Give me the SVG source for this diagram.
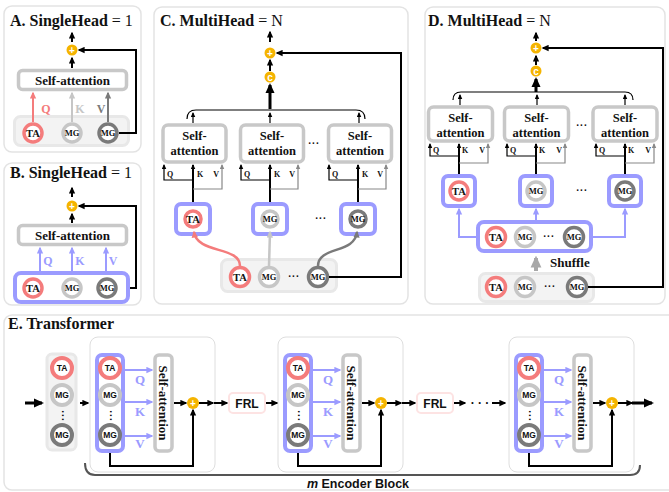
<svg xmlns="http://www.w3.org/2000/svg" width="669" height="492" viewBox="0 0 669 492">
<defs>
<style>
.panel{fill:#fff;stroke:#e3e3e3;stroke-width:1.5}
.title{font-family:"Liberation Serif",serif;font-weight:bold;font-size:16px;fill:#111}
.sa{fill:#fff;stroke:#c8c8c8;stroke-width:3.5}
.sat{font-family:"Liberation Serif",serif;font-weight:bold;font-size:13px;text-anchor:middle;fill:#111}
.sat2{font-family:"Liberation Serif",serif;font-weight:bold;font-size:12.5px;text-anchor:middle;fill:#111}
.bb{fill:#fff;stroke:#9b9bff;stroke-width:4}
.ib{fill:#f3f3f3;stroke:#e8e8e8;stroke-width:3}
.ta{fill:#fff;stroke:#f47c7c;stroke-width:3.5}
.mg1{fill:#fff;stroke:#c6c6c6;stroke-width:3.5}
.mg2{fill:#fff;stroke:#7a7a7a;stroke-width:3.5}
.e .ta,.e .mg1,.e .mg2{stroke-width:4}
.ct{font-family:"Liberation Serif",serif;font-weight:bold;font-size:10.5px;text-anchor:middle;fill:#111}
.cm{font-family:"Liberation Serif",serif;font-weight:bold;font-size:8.5px;text-anchor:middle;fill:#111}
.et{font-family:"Liberation Sans",sans-serif;font-weight:bold;font-size:8.5px;text-anchor:middle;fill:#111}
.op{fill:#f5b400}
.opt{font-family:"Liberation Sans",sans-serif;font-weight:bold;font-size:10px;fill:#fff;text-anchor:middle}
.k{fill:none;stroke:#000;stroke-width:2}
.k1{fill:none;stroke:#000;stroke-width:1.2}
.g1{fill:none;stroke:#888;stroke-width:1.2}
.k3{fill:none;stroke:#000;stroke-width:3}
.bl{fill:none;stroke:#9b9bff;stroke-width:2}
.lbl{font-family:"Liberation Serif",serif;font-weight:bold;font-size:12px;text-anchor:middle}
.elbl{font-family:"Liberation Serif",serif;font-weight:bold;font-size:13px;text-anchor:middle;fill:#9b9bff}
.qkv{font-family:"Liberation Serif",serif;font-weight:bold;font-size:8px;fill:#111}
.dots{font-family:"Liberation Sans",sans-serif;font-weight:bold;font-size:10px;letter-spacing:0.5px;text-anchor:middle;fill:#111}
.frl{fill:#fff;stroke:#fde3e3;stroke-width:2}
.frlt{font-family:"Liberation Sans",sans-serif;font-weight:bold;font-size:12px;text-anchor:middle;fill:#111}
.blk{fill:#fff;stroke:#dedede;stroke-width:1}
.enc{font-family:"Liberation Sans",sans-serif;font-weight:bold;font-size:12.5px;text-anchor:middle;fill:#111}
</style>
<marker id="ak" viewBox="0 0 10 10" refX="8" refY="5" markerWidth="7" markerHeight="7" markerUnits="userSpaceOnUse" orient="auto"><path d="M0,0.5 L10,5 L0,9.5 z" fill="#000"/></marker>
<marker id="aks" viewBox="0 0 10 10" refX="8" refY="5" markerWidth="5" markerHeight="5" markerUnits="userSpaceOnUse" orient="auto"><path d="M0,0.5 L10,5 L0,9.5 z" fill="#000"/></marker>
<marker id="ads" viewBox="0 0 10 10" refX="8" refY="5" markerWidth="5" markerHeight="5" markerUnits="userSpaceOnUse" orient="auto"><path d="M0,0.5 L10,5 L0,9.5 z" fill="#888"/></marker>
<marker id="akL" viewBox="0 0 10 10" refX="8" refY="5" markerWidth="10" markerHeight="10" markerUnits="userSpaceOnUse" orient="auto"><path d="M0,0.5 L10,5 L0,9.5 z" fill="#000"/></marker>
<marker id="ab" viewBox="0 0 10 10" refX="8" refY="5" markerWidth="7" markerHeight="7" markerUnits="userSpaceOnUse" orient="auto"><path d="M0,0.5 L10,5 L0,9.5 z" fill="#9b9bff"/></marker>
<marker id="ap" viewBox="0 0 10 10" refX="8" refY="5" markerWidth="7" markerHeight="7" markerUnits="userSpaceOnUse" orient="auto"><path d="M0,0.5 L10,5 L0,9.5 z" fill="#f47c7c"/></marker>
<marker id="ag" viewBox="0 0 10 10" refX="8" refY="5" markerWidth="7" markerHeight="7" markerUnits="userSpaceOnUse" orient="auto"><path d="M0,0.5 L10,5 L0,9.5 z" fill="#c6c6c6"/></marker>
<marker id="ad" viewBox="0 0 10 10" refX="8" refY="5" markerWidth="7" markerHeight="7" markerUnits="userSpaceOnUse" orient="auto"><path d="M0,0.5 L10,5 L0,9.5 z" fill="#7a7a7a"/></marker>
<marker id="ash" viewBox="0 0 10 10" refX="8" refY="5" markerWidth="12" markerHeight="12" markerUnits="userSpaceOnUse" orient="auto"><path d="M0,0.5 L10,5 L0,9.5 z" fill="#a8a8a8"/></marker>
</defs>

<!-- panel frames and titles -->
<g id="panel-a"><rect class="panel" x="4" y="6" width="137" height="146" rx="8"/><text class="title" x="10" y="26">A. SingleHead <tspan font-weight="normal">= 1</tspan></text></g>
<g id="panel-b"><rect class="panel" x="4" y="163" width="137" height="142" rx="8"/><text class="title" x="10" y="178">B. SingleHead <tspan font-weight="normal">= 1</tspan></text></g>
<g id="panel-c"><rect class="panel" x="154" y="7" width="254" height="297" rx="8"/><text class="title" x="160" y="26">C. MultiHead <tspan font-weight="normal">= N</tspan></text></g>
<g id="panel-d"><rect class="panel" x="425" y="7" width="240" height="297" rx="8"/><text class="title" x="428" y="26">D. MultiHead <tspan font-weight="normal">= N</tspan></text></g>
<g id="panel-e"><rect class="panel" x="4" y="315" width="680" height="175" rx="8"/><text class="title" x="8" y="329">E. Transformer</text></g>

<!-- A: single head, raw tokens -->
<g id="a-sa"><rect class="sa" x="18.5" y="70.5" width="108" height="19" rx="4"/><text class="sat" x="72.5" y="84.5">Self-attention</text></g>
<g id="a-in"><rect class="ib" x="14.5" y="116.5" width="114" height="29" rx="6"/></g>
<g id="a-ta"><circle class="ta" cx="33" cy="133" r="9"/><text class="ct" x="33" y="136.7">TA</text></g>
<g id="a-mg1"><circle class="mg1" cx="72" cy="133" r="9"/><text class="cm" x="72" y="136">MG</text></g>
<g id="a-mg2"><circle class="mg2" cx="108" cy="133" r="9"/><text class="cm" x="108" y="136">MG</text></g>
<g id="a-add"><circle class="op" cx="72" cy="50" r="5.5"/><text class="opt" x="72" y="53.6">+</text></g>

<!-- B: single head, grouped tokens -->
<g id="b-sa"><rect class="sa" x="18.5" y="225.5" width="108" height="19" rx="4"/><text class="sat" x="72.5" y="239.5">Self-attention</text></g>
<g id="b-in"><rect class="bb" x="15" y="273" width="113" height="29" rx="6"/></g>
<g id="b-ta"><circle class="ta" cx="33" cy="288" r="9"/><text class="ct" x="33" y="291.7">TA</text></g>
<g id="b-mg1"><circle class="mg1" cx="72" cy="288" r="9"/><text class="cm" x="72" y="291">MG</text></g>
<g id="b-mg2"><circle class="mg2" cx="107" cy="288" r="9"/><text class="cm" x="107" y="291">MG</text></g>
<g id="b-add"><circle class="op" cx="72" cy="206" r="5.5"/><text class="opt" x="72" y="209.6">+</text></g>

<!-- C: multi head, one token per head -->
<g id="c-add"><circle class="op" cx="270" cy="53" r="5.5"/><text class="opt" x="270" y="56.6">+</text></g>
<g id="c-cat"><circle class="op" cx="270" cy="77" r="5.5"/><text class="opt" x="270" y="80.5">c</text></g>
<g id="c-sa1"><rect class="sa" x="163" y="125" width="63" height="37" rx="5"/><text class="sat2" x="194.5" y="140">Self-</text><text class="sat2" x="194.5" y="155">attention</text></g>
<g id="c-sa2"><rect class="sa" x="240.5" y="125" width="63" height="37" rx="5"/><text class="sat2" x="272" y="140">Self-</text><text class="sat2" x="272" y="155">attention</text></g>
<g id="c-sa3"><rect class="sa" x="328.5" y="125" width="63" height="37" rx="5"/><text class="sat2" x="360" y="140">Self-</text><text class="sat2" x="360" y="155">attention</text></g>
<text class="dots" x="314" y="147">···</text>
<g id="c-h1"><rect class="bb" x="176" y="204" width="34" height="30" rx="5"/><circle class="ta" cx="193" cy="219" r="8"/><text class="ct" x="193" y="222.6">TA</text></g>
<g id="c-h2"><rect class="bb" x="253" y="204" width="34" height="30" rx="5"/><circle class="mg1" cx="270" cy="219" r="8"/><text class="cm" x="270" y="222">MG</text></g>
<g id="c-h3"><rect class="bb" x="341" y="204" width="34" height="30" rx="5"/><circle class="mg2" cx="358" cy="219" r="8"/><text class="cm" x="358" y="222">MG</text></g>
<text class="dots" x="321" y="222">···</text>
<g id="c-in"><rect class="ib" x="221.5" y="259.5" width="115" height="32" rx="6"/>
<circle class="ta" cx="240" cy="277" r="9.5"/><text class="ct" x="240" y="280.7">TA</text>
<circle class="mg1" cx="269" cy="277" r="9.5"/><text class="cm" x="269" y="280">MG</text>
<text class="dots" x="294" y="280">···</text>
<circle class="mg2" cx="318" cy="277" r="9.5"/><text class="cm" x="318" y="280">MG</text></g>

<!-- D: multi head, shuffled grouped tokens -->
<g id="d-add"><circle class="op" cx="536" cy="48" r="5.5"/><text class="opt" x="536" y="51.6">+</text></g>
<g id="d-cat"><circle class="op" cx="536" cy="71" r="5.5"/><text class="opt" x="536" y="74.5">c</text></g>
<g id="d-sa1"><rect class="sa" x="428.5" y="107" width="64" height="34" rx="5"/><text class="sat2" x="460.5" y="122">Self-</text><text class="sat2" x="460.5" y="137">attention</text></g>
<g id="d-sa2"><rect class="sa" x="504.5" y="107" width="64" height="34" rx="5"/><text class="sat2" x="536.5" y="122">Self-</text><text class="sat2" x="536.5" y="137">attention</text></g>
<g id="d-sa3"><rect class="sa" x="593" y="107" width="64" height="34" rx="5"/><text class="sat2" x="625" y="122">Self-</text><text class="sat2" x="625" y="137">attention</text></g>
<text class="dots" x="582" y="129">···</text>
<g id="d-h1"><rect class="bb" x="443" y="176" width="32" height="30" rx="5"/><circle class="ta" cx="459" cy="191" r="9"/><text class="ct" x="459" y="194.7">TA</text></g>
<g id="d-h2"><rect class="bb" x="520" y="176" width="32" height="30" rx="5"/><circle class="mg1" cx="536" cy="191" r="9"/><text class="cm" x="536" y="194">MG</text></g>
<g id="d-h3"><rect class="bb" x="609" y="176" width="32" height="30" rx="5"/><circle class="mg2" cx="625" cy="191" r="9"/><text class="cm" x="625" y="194">MG</text></g>
<text class="dots" x="582" y="194">···</text>
<g id="d-mid"><rect class="bb" x="478" y="222" width="113" height="29" rx="6"/>
<circle class="ta" cx="496" cy="237" r="9.5"/><text class="ct" x="496" y="240.7">TA</text>
<circle class="mg1" cx="525" cy="237" r="9.5"/><text class="cm" x="525" y="240">MG</text>
<text class="dots" x="549" y="240">···</text>
<circle class="mg2" cx="574" cy="237" r="9.5"/><text class="cm" x="574" y="240">MG</text></g>
<g id="d-in"><rect class="ib" x="479.5" y="273.5" width="114" height="28" rx="6"/>
<circle class="ta" cx="496" cy="287" r="9.5"/><text class="ct" x="496" y="290.7">TA</text>
<circle class="mg1" cx="525" cy="287" r="9.5"/><text class="cm" x="525" y="290">MG</text>
<text class="dots" x="550" y="290">···</text>
<circle class="mg2" cx="577" cy="287" r="9.5"/><text class="cm" x="577" y="290">MG</text></g>
<text x="550" y="267" font-family="Liberation Serif, serif" font-weight="bold" font-size="13" fill="#111">Shuffle</text>

<!-- E: transformer encoder stack -->
<g id="e-in" class="e"><rect class="ib" x="47" y="354" width="29" height="96" rx="5"/>
<circle class="ta" cx="62" cy="368" r="10"/><text class="et" x="62" y="371">TA</text>
<circle class="mg1" cx="62" cy="395" r="10"/><text class="et" x="62" y="398">MG</text>
<text class="dots" transform="rotate(90 62 416)" x="62" y="419">···</text>
<circle class="mg2" cx="62" cy="435" r="10"/><text class="et" x="62" y="438">MG</text></g>

<g id="e-blk1" class="e">
<rect class="blk" x="90" y="337" width="125" height="135" rx="8"/>
<rect class="bb" x="97" y="355" width="26" height="96" rx="5"/>
<circle class="ta" cx="110" cy="368" r="10"/><text class="et" x="110" y="371">TA</text>
<circle class="mg1" cx="110" cy="395" r="10"/><text class="et" x="110" y="398">MG</text>
<text class="dots" transform="rotate(90 110 416)" x="110" y="419">···</text>
<circle class="mg2" cx="110" cy="435" r="10"/><text class="et" x="110" y="438">MG</text>
<rect class="sa" x="155" y="355" width="17" height="96" rx="4"/>
<text class="sat" transform="rotate(90 163.5 403)" x="163.5" y="407.5">Self-attention</text>
<text class="elbl" x="140" y="384">Q</text><text class="elbl" x="140" y="416">K</text><text class="elbl" x="140" y="448">V</text>
<circle class="op" cx="193" cy="403" r="6"/><text class="opt" x="193" y="406.6">+</text>
</g>
<g id="e-frl1"><rect class="frl" x="229" y="393" width="36" height="20" rx="4"/><text class="frlt" x="247" y="407.5">FRL</text></g>

<g id="e-blk2" class="e" transform="translate(188,0)">
<rect class="blk" x="90" y="337" width="125" height="135" rx="8"/>
<rect class="bb" x="97" y="355" width="26" height="96" rx="5"/>
<circle class="ta" cx="110" cy="368" r="10"/><text class="et" x="110" y="371">TA</text>
<circle class="mg1" cx="110" cy="395" r="10"/><text class="et" x="110" y="398">MG</text>
<text class="dots" transform="rotate(90 110 416)" x="110" y="419">···</text>
<circle class="mg2" cx="110" cy="435" r="10"/><text class="et" x="110" y="438">MG</text>
<rect class="sa" x="155" y="355" width="17" height="96" rx="4"/>
<text class="sat" transform="rotate(90 163.5 403)" x="163.5" y="407.5">Self-attention</text>
<text class="elbl" x="140" y="384">Q</text><text class="elbl" x="140" y="416">K</text><text class="elbl" x="140" y="448">V</text>
<circle class="op" cx="193" cy="403" r="6"/><text class="opt" x="193" y="406.6">+</text>
</g>
<g id="e-frl2"><rect class="frl" x="417" y="393" width="36" height="20" rx="4"/><text class="frlt" x="435" y="407.5">FRL</text></g>
<text x="480" y="406.5" font-family="Liberation Sans, sans-serif" font-weight="bold" font-size="12" text-anchor="middle" fill="#111">· · ·</text>

<g id="e-blk3" class="e" transform="translate(419,0)">
<rect class="blk" x="90" y="337" width="125" height="135" rx="8"/>
<rect class="bb" x="97" y="355" width="26" height="96" rx="5"/>
<circle class="ta" cx="110" cy="368" r="10"/><text class="et" x="110" y="371">TA</text>
<circle class="mg1" cx="110" cy="395" r="10"/><text class="et" x="110" y="398">MG</text>
<text class="dots" transform="rotate(90 110 416)" x="110" y="419">···</text>
<circle class="mg2" cx="110" cy="435" r="10"/><text class="et" x="110" y="438">MG</text>
<rect class="sa" x="155" y="355" width="17" height="96" rx="4"/>
<text class="sat" transform="rotate(90 163.5 403)" x="163.5" y="407.5">Self-attention</text>
<text class="elbl" x="140" y="384">Q</text><text class="elbl" x="140" y="416">K</text><text class="elbl" x="140" y="448">V</text>
<circle class="op" cx="193" cy="403" r="6"/><text class="opt" x="193" y="406.6">+</text>
</g>
<text class="enc" x="358" y="488"><tspan font-style="italic">m</tspan> Encoder Block</text>

<!-- connectors -->
<g id="connectors">
<!-- A -->
<line class="k" x1="72" y1="42" x2="72" y2="33" marker-end="url(#ak)"/>
<line class="k" x1="72" y1="68" x2="72" y2="58" marker-end="url(#ak)"/>
<line stroke="#f47c7c" stroke-width="2" x1="33" y1="122" x2="33" y2="93" marker-end="url(#ap)"/>
<line stroke="#c6c6c6" stroke-width="2" x1="72" y1="122" x2="72" y2="93" marker-end="url(#ag)"/>
<line stroke="#7a7a7a" stroke-width="2" x1="108" y1="122" x2="108" y2="93" marker-end="url(#ad)"/>
<path class="k" d="M119,133 H136 V50 H79" marker-end="url(#ak)"/>
<text class="lbl" fill="#f47c7c" x="46" y="113">Q</text>
<text class="lbl" fill="#c6c6c6" x="80" y="113">K</text>
<text class="lbl" fill="#7a7a7a" x="101" y="113">V</text>
<!-- B -->
<line class="k" x1="72" y1="197" x2="72" y2="188" marker-end="url(#ak)"/>
<line class="k" x1="72" y1="223" x2="72" y2="214" marker-end="url(#ak)"/>
<line class="bl" x1="40" y1="271" x2="40" y2="248" marker-end="url(#ab)"/>
<line class="bl" x1="72" y1="271" x2="72" y2="248" marker-end="url(#ab)"/>
<line class="bl" x1="106" y1="271" x2="106" y2="248" marker-end="url(#ab)"/>
<path class="k" d="M130,288 H136 V206 H79" marker-end="url(#ak)"/>
<text class="lbl" fill="#9b9bff" x="48" y="265">Q</text>
<text class="lbl" fill="#9b9bff" x="80" y="265">K</text>
<text class="lbl" fill="#9b9bff" x="113" y="265">V</text>
<!-- C -->
<line class="k" x1="270" y1="42" x2="270" y2="32" marker-end="url(#ak)"/>
<line class="k" x1="270" y1="71" x2="270" y2="60" marker-end="url(#ak)"/>
<line class="k3" x1="270" y1="109" x2="270" y2="85" marker-end="url(#akL)"/>
<path class="k1" d="M187,119 Q187,110 196,110 H356 Q365,110 365,119"/>
<line class="k1" x1="193" y1="123" x2="193" y2="113" marker-end="url(#aks)"/>
<line class="k1" x1="270" y1="123" x2="270" y2="113" marker-end="url(#aks)"/>
<line class="k1" x1="359" y1="123" x2="359" y2="113" marker-end="url(#aks)"/>
<path class="k1" d="M193,180 H164 V165" marker-end="url(#aks)"/>
<line class="k" stroke-width="1.5" x1="193" y1="202" x2="193" y2="165" marker-end="url(#aks)"/>
<path class="g1" d="M193,189 H222 V165" marker-end="url(#ads)"/>
<path class="k1" d="M270,180 H241 V165" marker-end="url(#aks)"/>
<line class="k" stroke-width="1.5" x1="270" y1="202" x2="270" y2="165" marker-end="url(#aks)"/>
<path class="g1" d="M270,189 H298 V165" marker-end="url(#ads)"/>
<path class="k1" d="M358,180 H329 V165" marker-end="url(#aks)"/>
<line class="k" stroke-width="1.5" x1="358" y1="202" x2="358" y2="165" marker-end="url(#aks)"/>
<path class="g1" d="M358,189 H386 V165" marker-end="url(#ads)"/>
<text class="qkv" x="167" y="177">Q</text><text class="qkv" x="197" y="177">K</text><text class="qkv" x="219" y="177" text-anchor="end">V</text>
<text class="qkv" x="244" y="177">Q</text><text class="qkv" x="274" y="177">K</text><text class="qkv" x="295" y="177" text-anchor="end">V</text>
<text class="qkv" x="332" y="177">Q</text><text class="qkv" x="362" y="177">K</text><text class="qkv" x="383" y="177" text-anchor="end">V</text>
<path fill="none" stroke="#f47c7c" stroke-width="2.5" d="M240,266 C240,246 197,254 194,232" marker-end="url(#ap)"/>
<line stroke="#c6c6c6" stroke-width="2.5" x1="269" y1="266" x2="270" y2="232" marker-end="url(#ag)"/>
<path fill="none" stroke="#7a7a7a" stroke-width="2.5" d="M318,266 C318,246 355,254 357,232" marker-end="url(#ad)"/>
<path class="k" d="M329,277 H401 V53 H277" marker-end="url(#ak)"/>
<!-- D -->
<line class="k" x1="536" y1="41" x2="536" y2="33" marker-end="url(#ak)"/>
<line class="k" x1="536" y1="65" x2="536" y2="56" marker-end="url(#ak)"/>
<line class="k3" x1="536" y1="92" x2="536" y2="79" marker-end="url(#akL)"/>
<path class="k1" d="M453,100 Q453,92 461,92 H625 Q633,92 633,100"/>
<line class="k1" x1="460" y1="105" x2="460" y2="95" marker-end="url(#aks)"/>
<line class="k1" x1="537" y1="105" x2="537" y2="95" marker-end="url(#aks)"/>
<line class="k1" x1="625" y1="105" x2="625" y2="95" marker-end="url(#aks)"/>
<path class="k1" d="M459,156 H430 V144" marker-end="url(#aks)"/>
<line class="k" stroke-width="1.5" x1="459" y1="174" x2="459" y2="144" marker-end="url(#aks)"/>
<path class="g1" d="M459,163 H488 V144" marker-end="url(#ads)"/>
<path class="k1" d="M536,156 H507 V144" marker-end="url(#aks)"/>
<line class="k" stroke-width="1.5" x1="536" y1="174" x2="536" y2="144" marker-end="url(#aks)"/>
<path class="g1" d="M536,163 H565 V144" marker-end="url(#ads)"/>
<path class="k1" d="M625,156 H596 V144" marker-end="url(#aks)"/>
<line class="k" stroke-width="1.5" x1="625" y1="174" x2="625" y2="144" marker-end="url(#aks)"/>
<path class="g1" d="M625,163 H654 V144" marker-end="url(#ads)"/>
<text class="qkv" x="433" y="153">Q</text><text class="qkv" x="462" y="153">K</text><text class="qkv" x="485" y="153" text-anchor="end">V</text>
<text class="qkv" x="510" y="153">Q</text><text class="qkv" x="539" y="153">K</text><text class="qkv" x="562" y="153" text-anchor="end">V</text>
<text class="qkv" x="599" y="153">Q</text><text class="qkv" x="628" y="153">K</text><text class="qkv" x="651" y="153" text-anchor="end">V</text>
<path class="bl" d="M476,237 H459 V209" marker-end="url(#ab)"/>
<line class="bl" x1="536" y1="220" x2="536" y2="209" marker-end="url(#ab)"/>
<path class="bl" d="M593,237 H625 V209" marker-end="url(#ab)"/>
<line stroke="#a8a8a8" stroke-width="4" x1="536" y1="271" x2="536" y2="258" marker-end="url(#ash)"/>
<path class="k" d="M588,287 H663 V48 H543" marker-end="url(#ak)"/>
<!-- E -->
<line class="k3" x1="25" y1="403" x2="42" y2="403" marker-end="url(#akL)"/>
<line class="k" x1="80" y1="403" x2="88" y2="403" marker-end="url(#ak)"/>
<g id="e-links1">
<line class="bl" x1="125" y1="370" x2="152" y2="370" marker-end="url(#ab)"/>
<line class="bl" x1="125" y1="402" x2="152" y2="402" marker-end="url(#ab)"/>
<line class="bl" x1="125" y1="436" x2="152" y2="436" marker-end="url(#ab)"/>
<line class="k" x1="174" y1="403" x2="186" y2="403" marker-end="url(#ak)"/>
<path class="k" d="M110,453 V466 H193 V410" marker-end="url(#ak)"/>
<line class="k" x1="199" y1="403" x2="213" y2="403" marker-end="url(#ak)"/>
<line class="k" x1="214" y1="403" x2="227" y2="403" marker-end="url(#ak)"/>
<line class="k" x1="266" y1="403" x2="277" y2="403" marker-end="url(#ak)"/>
</g>
<g id="e-links2" transform="translate(188,0)">
<line class="bl" x1="125" y1="370" x2="152" y2="370" marker-end="url(#ab)"/>
<line class="bl" x1="125" y1="402" x2="152" y2="402" marker-end="url(#ab)"/>
<line class="bl" x1="125" y1="436" x2="152" y2="436" marker-end="url(#ab)"/>
<line class="k" x1="174" y1="403" x2="186" y2="403" marker-end="url(#ak)"/>
<path class="k" d="M110,453 V466 H193 V410" marker-end="url(#ak)"/>
<line class="k" x1="199" y1="403" x2="213" y2="403" marker-end="url(#ak)"/>
<line class="k" x1="214" y1="403" x2="227" y2="403" marker-end="url(#ak)"/>
<line class="k" x1="266" y1="403" x2="277" y2="403" marker-end="url(#ak)"/>
</g>
<line class="k" x1="492" y1="403" x2="505" y2="403" marker-end="url(#ak)"/>
<g id="e-links3" transform="translate(419,0)">
<line class="bl" x1="125" y1="370" x2="152" y2="370" marker-end="url(#ab)"/>
<line class="bl" x1="125" y1="402" x2="152" y2="402" marker-end="url(#ab)"/>
<line class="bl" x1="125" y1="436" x2="152" y2="436" marker-end="url(#ab)"/>
<line class="k" x1="174" y1="403" x2="186" y2="403" marker-end="url(#ak)"/>
<path class="k" d="M110,453 V466 H193 V410" marker-end="url(#ak)"/>
<line class="k" x1="199" y1="403" x2="213" y2="403" marker-end="url(#ak)"/>
</g>
<line class="k3" x1="632" y1="403" x2="652" y2="403" marker-end="url(#akL)"/>
<path fill="none" stroke="#555" stroke-width="2" d="M85,463 Q85,475 95,475 H630 Q640,475 640,465"/>
</g>
</svg>
